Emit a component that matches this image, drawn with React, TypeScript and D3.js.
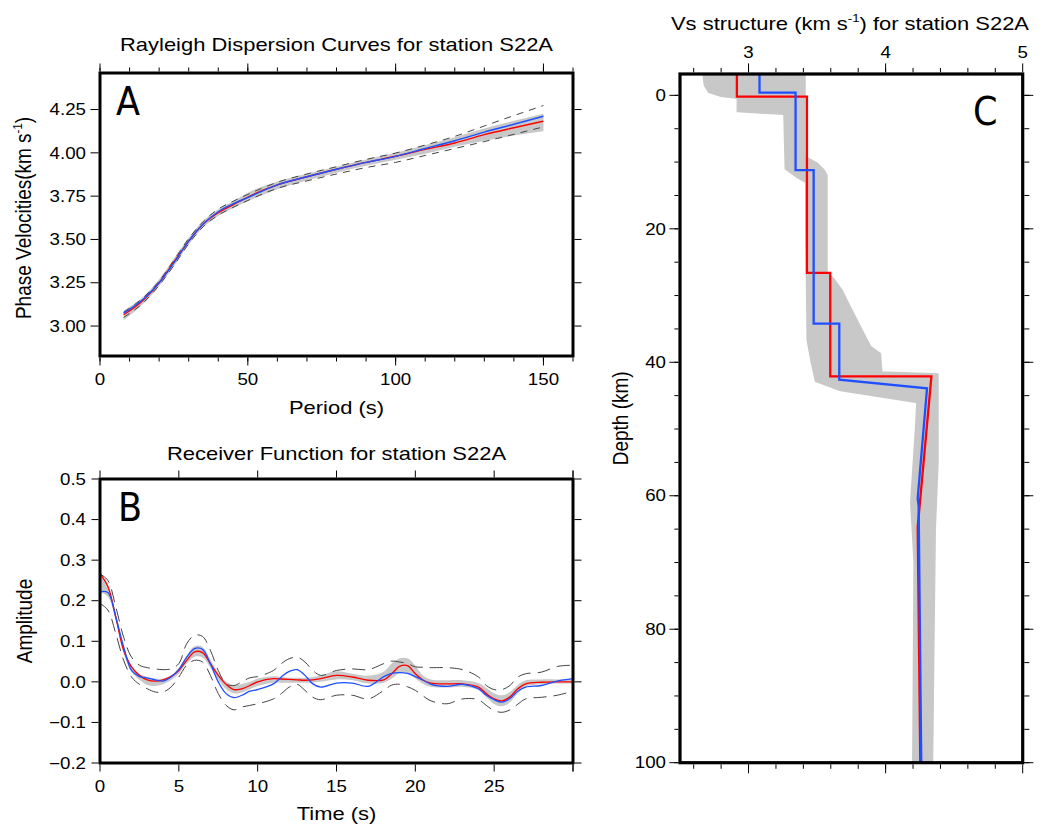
import React from "react";
import * as d3 from "d3";

// ---------- Panel A: Rayleigh dispersion ----------
const periods = [8, 15, 20, 25, 30, 35, 40, 45, 50, 60, 70, 80, 90, 100, 110, 120, 130, 140, 150];
const phaseRed = [3.065, 3.155, 3.25, 3.37, 3.49, 3.59, 3.655, 3.7, 3.745, 3.815, 3.862, 3.905, 3.945, 3.98, 4.02, 4.057, 4.105, 4.145, 4.183];
const phaseBlue = [3.075, 3.16, 3.25, 3.365, 3.49, 3.59, 3.66, 3.705, 3.742, 3.815, 3.862, 3.905, 3.945, 3.98, 4.025, 4.07, 4.12, 4.165, 4.211];
const phaseUpper = [3.08, 3.17, 3.26, 3.38, 3.505, 3.605, 3.675, 3.72, 3.76, 3.83, 3.878, 3.92, 3.962, 3.999, 4.045, 4.095, 4.155, 4.215, 4.273];
const phaseLower = [3.05, 3.14, 3.235, 3.35, 3.475, 3.575, 3.64, 3.685, 3.725, 3.795, 3.838, 3.878, 3.915, 3.945, 3.985, 4.025, 4.065, 4.107, 4.15];
const phaseGrayHi = [3.09, 3.175, 3.27, 3.39, 3.51, 3.61, 3.675, 3.72, 3.77, 3.835, 3.88, 3.92, 3.962, 4.0, 4.045, 4.09, 4.14, 4.185, 4.225];
const phaseGrayLo = [3.035, 3.135, 3.23, 3.345, 3.47, 3.57, 3.635, 3.68, 3.72, 3.79, 3.84, 3.885, 3.925, 3.96, 3.995, 4.035, 4.07, 4.1, 4.125];
const aXTicks = [0, 50, 100, 150];
const aXLabels = ["0", "50", "100", "150"];
const aYTicks = [3.0, 3.25, 3.5, 3.75, 4.0, 4.25];
const aYLabels = ["3.00", "3.25", "3.50", "3.75", "4.00", "4.25"];

// ---------- Panel B: Receiver function ----------
const rfTime = [0, 0.5, 1, 1.5, 2, 2.5, 3, 3.5, 4, 4.5, 5, 5.5, 6, 6.5, 7, 7.5, 8, 8.5, 9, 9.5, 10, 11, 11.5, 12, 12.5, 13, 13.5, 14, 15, 16, 17, 18, 18.5, 19, 19.5, 20, 20.5, 21, 22, 23, 24, 24.5, 25, 25.5, 26, 26.5, 27, 28, 29, 30];
const rfRed = [0.266, 0.235, 0.16, 0.078, 0.037, 0.016, 0.005, 0.002, 0.005, 0.013, 0.028, 0.053, 0.074, 0.072, 0.045, 0.016, -0.006, -0.019, -0.017, -0.009, 0.0, 0.008, 0.007, 0.006, 0.005, 0.004, 0.005, 0.008, 0.016, 0.012, 0.004, 0.005, 0.02, 0.038, 0.04, 0.02, 0.004, -0.003, -0.005, -0.005, -0.013, -0.029, -0.042, -0.047, -0.037, -0.017, -0.005, -0.001, 0.0, 0.0];
const rfBlue = [0.222, 0.22, 0.16, 0.086, 0.028, 0.013, 0.01, 0.005, 0.002, 0.012, 0.03, 0.061, 0.082, 0.08, 0.045, 0.0, -0.029, -0.039, -0.033, -0.023, -0.019, -0.005, 0.012, 0.026, 0.03, 0.016, -0.005, -0.013, -0.003, -0.003, -0.011, 0.013, 0.021, 0.023, 0.021, 0.013, 0.004, -0.006, -0.011, -0.006, -0.017, -0.033, -0.044, -0.05, -0.041, -0.023, -0.013, -0.009, 0.002, 0.008];
const rfUpper = [0.266, 0.25, 0.185, 0.11, 0.061, 0.041, 0.035, 0.032, 0.03, 0.032, 0.045, 0.094, 0.115, 0.112, 0.078, 0.028, -0.005, -0.009, 0.0, 0.01, 0.013, 0.028, 0.045, 0.057, 0.061, 0.049, 0.028, 0.016, 0.028, 0.032, 0.03, 0.045, 0.051, 0.049, 0.045, 0.037, 0.036, 0.035, 0.035, 0.03, 0.012, -0.009, -0.019, -0.019, -0.009, 0.012, 0.02, 0.024, 0.038, 0.041];
const rfLower = [0.193, 0.177, 0.119, 0.053, 0.012, -0.006, -0.017, -0.025, -0.025, -0.013, 0.012, 0.041, 0.053, 0.049, 0.016, -0.029, -0.058, -0.069, -0.062, -0.058, -0.054, -0.042, -0.029, -0.013, -0.006, -0.021, -0.038, -0.044, -0.033, -0.033, -0.042, -0.021, -0.008, -0.006, -0.012, -0.021, -0.035, -0.047, -0.054, -0.042, -0.044, -0.058, -0.071, -0.075, -0.069, -0.055, -0.042, -0.038, -0.033, -0.023];
const rfGrayHi = [0.27, 0.24, 0.17, 0.09, 0.04, 0.02, 0.012, 0.008, 0.008, 0.016, 0.035, 0.065, 0.088, 0.086, 0.055, 0.022, 0.0, -0.008, -0.005, 0.0, 0.008, 0.014, 0.012, 0.01, 0.01, 0.01, 0.012, 0.016, 0.026, 0.02, 0.015, 0.025, 0.045, 0.058, 0.058, 0.04, 0.015, 0.006, 0.004, 0.004, -0.003, -0.015, -0.028, -0.033, -0.025, -0.008, 0.004, 0.006, 0.006, 0.006];
const rfGrayLo = [0.22, 0.21, 0.15, 0.07, 0.025, 0.005, -0.008, -0.01, -0.006, 0.004, 0.02, 0.045, 0.062, 0.06, 0.035, 0.005, -0.018, -0.028, -0.026, -0.018, -0.01, -0.002, -0.002, -0.002, -0.002, -0.002, -0.002, 0.0, 0.006, 0.004, -0.004, -0.002, 0.008, 0.022, 0.022, 0.008, -0.005, -0.012, -0.014, -0.012, -0.02, -0.038, -0.055, -0.06, -0.05, -0.028, -0.012, -0.006, -0.004, -0.004];
const bXTicks = [0, 5, 10, 15, 20, 25];
const bXLabels = ["0", "5", "10", "15", "20", "25"];
const bYTicks = [-0.2, -0.1, 0.0, 0.1, 0.2, 0.3, 0.4, 0.5];
const bYLabels = ["\u22120.2", "\u22120.1", "0.0", "0.1", "0.2", "0.3", "0.4", "0.5"];

// ---------- Panel C: Vs structure ----------
const vsRed = [2.915, 2.915, 3.426, 3.426, 3.596, 3.596, 4.334, 4.234, 4.253];
const depthRed = [-3.2, 0.2, 0.2, 26.6, 26.6, 42.1, 42.1, 64.7, 100];
const vsBlue = [3.08, 3.08, 3.343, 3.343, 3.475, 3.475, 3.662, 3.662, 4.302, 4.234, 4.241, 4.26];
const depthBlue = [-3.2, -0.4, -0.4, 11.2, 11.2, 34.2, 34.2, 42.6, 43.9, 60.4, 61.6, 100];
const ensVs = [3.41, 3.41, 3.5, 3.55, 3.57, 3.57, 3.62, 3.68, 3.74, 3.84, 3.89, 3.96, 3.97, 4.38, 4.38, 4.36, 4.34, 4.2, 4.21, 4.185, 4.22, 4.23, 3.67, 3.49, 3.46, 3.43, 3.42, 3.42, 3.35, 3.27, 3.26, 2.92, 2.92, 2.8, 2.71, 2.68, 2.67];
const ensDepth = [-3.2, 9.2, 10.2, 11.2, 12, 26.5, 27.5, 29.2, 31.7, 35.7, 37.7, 38.7, 41.5, 41.8, 55, 65, 100, 100, 70, 61, 50, 46, 44.2, 42.8, 40, 36.7, 20, 13, 12.2, 11, 2.8, 2.4, 0.4, 0.1, -0.5, -1.5, -3.2];
const cXTicks = [3, 4, 5];
const cXLabels = ["3", "4", "5"];
const cYTicks = [0, 20, 40, 60, 80, 100];
const cYLabels = ["0", "20", "40", "60", "80", "100"];

const SANS = "'Liberation Sans', Arial, Helvetica, sans-serif";
const LETTER = "'DejaVu Sans Condensed', 'Open Sans', 'Liberation Sans', sans-serif";
const RED = "#ff0000";
const BLUE = "#1f4fff";
const GRAY = "#c8c8c8";
const DASH = "#444";

const A = { x0: 100, x1: 573, y0: 73, y1: 356 };
const B = { x0: 100, x1: 573, y0: 479, y1: 763 };
const C = { x0: 680, x1: 1022.7, y0: 74, y1: 762.7 };

function Txt({ x, y, size, sx = 1, anchor = "middle", rot = 0, family = SANS, children }: any) {
  const t = `translate(${x},${y}) scale(${sx},1)` + (rot ? ` rotate(${rot})` : "");
  return (
    <text transform={t} fontSize={size} fontFamily={family} textAnchor={anchor} fill="#000">
      {children}
    </text>
  );
}

function Sup({ size }: any) {
  return (
    <>
      <tspan fontSize={size * 0.6} dy={-size * 0.42}>-1</tspan>
      <tspan dy={size * 0.42}>)</tspan>
    </>
  );
}

function HTicks({ xs, y, len, dir }: any) {
  // vertical tick marks at x positions, from frame edge outward
  return (
    <g stroke="#000" strokeWidth={1}>
      {xs.map((x: number, i: number) => (
        <line key={i} x1={x} x2={x} y1={y} y2={y + dir * len} />
      ))}
    </g>
  );
}
function VTicks({ ys, x, len, dir }: any) {
  return (
    <g stroke="#000" strokeWidth={1}>
      {ys.map((y: number, i: number) => (
        <line key={i} y1={y} y2={y} x1={x} x2={x + dir * len} />
      ))}
    </g>
  );
}

export default function App() {
  // Panel A scales
  const xA = d3.scaleLinear().domain([0, 160]).range([A.x0, A.x1]);
  const yA = d3.scaleLinear().domain([2.827, 4.461]).range([A.y1, A.y0]);
  const lineA = (vals: number[]) =>
    d3.line<number>().x((_, i) => xA(periods[i])).y((v) => yA(v)).curve(d3.curveMonotoneX)(vals) || "";
  const areaA =
    d3.area<number>().x((i) => xA(periods[i])).y0((i) => yA(phaseGrayLo[i])).y1((i) => yA(phaseGrayHi[i])).curve(d3.curveMonotoneX)(
      d3.range(periods.length)
    ) || "";

  // Panel B scales
  const xB = d3.scaleLinear().domain([0, 30]).range([B.x0, B.x1]);
  const yB = d3.scaleLinear().domain([-0.2, 0.5]).range([B.y1, B.y0]);
  const lineB = (vals: number[]) =>
    d3.line<number>().x((_, i) => xB(rfTime[i])).y((v) => yB(v)).curve(d3.curveCatmullRom.alpha(0.5))(vals) || "";
  const areaB =
    d3.area<number>().x((i) => xB(rfTime[i])).y0((i) => yB(rfGrayLo[i])).y1((i) => yB(rfGrayHi[i])).curve(d3.curveCatmullRom.alpha(0.5))(
      d3.range(rfTime.length)
    ) || "";

  // Panel C scales
  const xC = d3.scaleLinear().domain([2.5, 5]).range([C.x0, C.x1]);
  const yC = d3.scaleLinear().domain([-3.2, 100]).range([C.y0, C.y1]);
  const lineC = (vs: number[], dep: number[]) =>
    d3.line<number>().x((v) => xC(v)).y((_, i) => yC(dep[i]))(vs) || "";
  const ensPath =
    d3.line<number>().x((v) => xC(v)).y((_, i) => yC(ensDepth[i])).curve(d3.curveLinearClosed)(ensVs) || "";

  const tickFs = 16;
  const tickSx = 1.17;
  const labFs = 18;
  const labSx = 1.22;

  return (
    <svg width={1042} height={825} style={{ position: "absolute", left: 0, top: 0, background: "#fff" }}>
      <rect x={0} y={0} width={1042} height={825} fill="#fff" />

      {/* ================= Panel A ================= */}
      <path d={areaA} fill={GRAY} stroke="none" />
      <path d={lineA(phaseUpper)} fill="none" stroke={DASH} strokeWidth={1} strokeDasharray="7,6" />
      <path d={lineA(phaseLower)} fill="none" stroke={DASH} strokeWidth={1} strokeDasharray="7,6" />
      <path d={lineA(phaseRed)} fill="none" stroke={RED} strokeWidth={1.4} />
      <path d={lineA(phaseBlue)} fill="none" stroke={BLUE} strokeWidth={1.4} />
      <rect x={A.x0} y={A.y0} width={A.x1 - A.x0} height={A.y1 - A.y0} fill="none" stroke="#000" strokeWidth={3} />
      <HTicks xs={xA.ticks(16).map(xA)} y={A.y1 + 1.5} len={4} dir={1} />
      <HTicks xs={aXTicks.map(xA)} y={A.y1 + 1.5} len={8} dir={1} />
      <HTicks xs={xA.ticks(16).map(xA)} y={A.y0 - 1.5} len={4} dir={-1} />
      <HTicks xs={aXTicks.map(xA)} y={A.y0 - 1.5} len={8} dir={-1} />
      <VTicks ys={aYTicks.map(yA)} x={A.x0 - 1.5} len={8} dir={-1} />
      <VTicks ys={aYTicks.map(yA)} x={A.x1 + 1.5} len={7} dir={1} />
      {aXTicks.map((t, i) => (
        <Txt key={i} x={xA(t)} y={385} size={tickFs} sx={tickSx}>{aXLabels[i]}</Txt>
      ))}
      {aYTicks.map((t, i) => (
        <Txt key={i} x={86} y={yA(t) + 5.7} size={tickFs} sx={tickSx} anchor="end">{aYLabels[i]}</Txt>
      ))}
      <Txt x={(A.x0 + A.x1) / 2} y={51} size={labFs} sx={labSx}>Rayleigh Dispersion Curves for station S22A</Txt>
      <Txt x={(A.x0 + A.x1) / 2} y={414} size={labFs} sx={labSx}>Period (s)</Txt>
      <Txt x={31} y={218} size={19} sx={1.12} rot={-90}>
        Phase Velocities(km s<Sup size={19} />
      </Txt>
      <Txt x={116} y={115} size={39} anchor="start" family={LETTER}>A</Txt>

      {/* ================= Panel B ================= */}
      <path d={areaB} fill={GRAY} stroke="none" />
      <path d={lineB(rfUpper)} fill="none" stroke={DASH} strokeWidth={1} strokeDasharray="13,7" />
      <path d={lineB(rfLower)} fill="none" stroke={DASH} strokeWidth={1} strokeDasharray="13,7" />
      <path d={lineB(rfRed)} fill="none" stroke={RED} strokeWidth={1.3} />
      <path d={lineB(rfBlue)} fill="none" stroke={BLUE} strokeWidth={1.3} />
      <rect x={B.x0} y={B.y0} width={B.x1 - B.x0} height={B.y1 - B.y0} fill="none" stroke="#000" strokeWidth={3} />
      <HTicks xs={xB.ticks(6).map(xB).concat([xB(30)])} y={B.y1 + 1.5} len={7} dir={1} />
      <HTicks xs={xB.ticks(6).map(xB).concat([xB(30)])} y={B.y0 - 1.5} len={7} dir={-1} />
      <VTicks ys={bYTicks.map(yB)} x={B.x0 - 1.5} len={7} dir={-1} />
      <VTicks ys={bYTicks.map(yB)} x={B.x1 + 1.5} len={7} dir={1} />
      {bXTicks.map((t, i) => (
        <Txt key={i} x={xB(t)} y={792} size={tickFs} sx={tickSx}>{bXLabels[i]}</Txt>
      ))}
      {bYTicks.map((t, i) => (
        <Txt key={i} x={86} y={yB(t) + 5.7} size={tickFs} sx={tickSx} anchor="end">{bYLabels[i]}</Txt>
      ))}
      <Txt x={(B.x0 + B.x1) / 2} y={460} size={labFs} sx={labSx}>Receiver Function for station S22A</Txt>
      <Txt x={(B.x0 + B.x1) / 2} y={820} size={labFs} sx={labSx}>Time (s)</Txt>
      <Txt x={32} y={(B.y0 + B.y1) / 2} size={19} sx={1.12} rot={-90}>Amplitude</Txt>
      <Txt x={118} y={521} size={39} anchor="start" family={LETTER}>B</Txt>

      {/* ================= Panel C ================= */}
      <path d={ensPath} fill={GRAY} stroke={GRAY} strokeWidth={2} strokeLinejoin="round" />
      <path d={lineC(vsRed, depthRed)} fill="none" stroke={RED} strokeWidth={2.3} />
      <path d={lineC(vsBlue, depthBlue)} fill="none" stroke={BLUE} strokeWidth={2.3} />
      <rect x={C.x0} y={C.y0} width={C.x1 - C.x0} height={C.y1 - C.y0} fill="none" stroke="#000" strokeWidth={3.2} />
      <HTicks xs={d3.range(2.6, 5.0, 0.2).map(xC)} y={C.y0 - 1.6} len={4.5} dir={-1} />
      <HTicks xs={cXTicks.map(xC)} y={C.y0 - 1.6} len={9} dir={-1} />
      <HTicks xs={d3.range(2.6, 5.0, 0.2).map(xC)} y={C.y1 + 1.6} len={4.5} dir={1} />
      <HTicks xs={cXTicks.map(xC)} y={C.y1 + 1.6} len={9} dir={1} />
      <VTicks ys={yC.ticks(20).filter((d) => d >= 0).map(yC)} x={C.x0 - 1.6} len={4} dir={-1} />
      <VTicks ys={cYTicks.map(yC)} x={C.x0 - 1.6} len={9} dir={-1} />
      <VTicks ys={yC.ticks(20).filter((d) => d >= 0).map(yC)} x={C.x1 + 1.6} len={5} dir={1} />
      <VTicks ys={cYTicks.map(yC)} x={C.x1 + 1.6} len={9} dir={1} />
      {cXTicks.map((t, i) => (
        <Txt key={i} x={xC(t)} y={58} size={tickFs} sx={tickSx}>{cXLabels[i]}</Txt>
      ))}
      {cYTicks.map((t, i) => (
        <Txt key={i} x={666} y={yC(t) + 5.7} size={tickFs} sx={tickSx} anchor="end">{cYLabels[i]}</Txt>
      ))}
      <Txt x={850} y={30} size={labFs} sx={labSx}>
        Vs structure (km s<Sup size={labFs} /> for station S22A
      </Txt>
      <Txt x={628} y={(C.y0 + C.y1) / 2} size={19} sx={1.12} rot={-90}>Depth (km)</Txt>
      <Txt x={973} y={125} size={39} anchor="start" family={LETTER}>C</Txt>
    </svg>
  );
}
